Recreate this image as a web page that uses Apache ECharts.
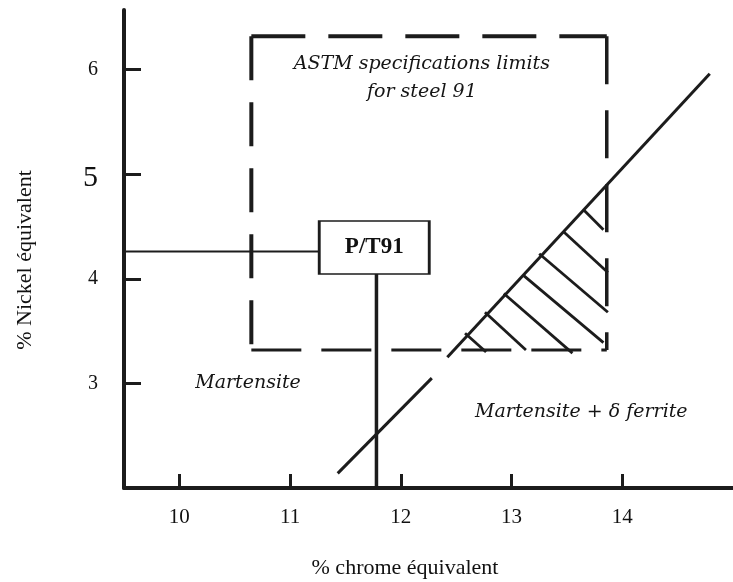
<!DOCTYPE html>
<html>
<head>
<meta charset="utf-8">
<script src="https://cdn.jsdelivr.net/npm/echarts@6/dist/echarts.min.js"></script>
<style>html,body{margin:0;padding:0;background:#fff}#c{width:733px;height:582px}</style>
</head>
<body>
<div id="c"></div>
<script>
// ---- data ----
const xTicks = [10, 11, 12, 13, 14];
const yTicks = [3, 4, 5, 6];
const xRange = [9.5, 15];
const yRange = [2, 6.57];
const xTitle = '% chrome équivalent';
const yTitle = '% Nickel équivalent';
const astmX = [10.65, 13.86];
const astmY = [3.32, 6.32];
const pt91 = [11.78, 4.26];
const pt91Label = [11.76, 4.30];
const boundaryLower = [[11.43, 2.14], [12.28, 3.05]];
const boundaryUpper = [[12.42, 3.25], [14.79, 5.96]];
const hatchStart = [[12.58, 3.48], [12.76, 3.68], [12.93, 3.86], [13.11, 4.03], [13.25, 4.24], [13.47, 4.45], [13.65, 4.66]];
const hatchEnd = [[12.77, 3.30], [13.13, 3.32], [13.55, 3.29], [13.83, 3.39], [13.87, 3.68], [13.87, 4.06], [13.83, 4.47]];
const regionNames = ['Martensite', 'Martensite + δ ferrite', 'ASTM specifications limits\nfor steel 91'];
const regionPos = [[10.62, 3.0], [13.63, 2.73], [12.19, 5.92]];

const ink = '#1c1c1c';
const serif = 'Liberation Serif';
const italicFont = 'DejaVu Serif';

function seg(a, b, width, dash, z) {
  return {
    type: 'line', data: [a, b], symbol: 'none', silent: true, z: z || 3,
    lineStyle: { color: ink, width: width, type: dash || 'solid', cap: 'butt', opacity: 1 },
    animation: false
  };
}

const series = [];
// ASTM dashed box (four sides each starting at a corner)
const dash = [54, 23];
series.push(seg([astmX[0], astmY[1]], [astmX[1], astmY[1]], 4, dash));
series.push(seg([astmX[0], astmY[1]], [astmX[0], astmY[0]], 4, [44, 22]));
series.push(seg([astmX[0], astmY[0]], [astmX[1], astmY[0]], 3, [50, 20]));
series.push(seg([astmX[1], astmY[1]], [astmX[1], astmY[0]], 3.5, [48, 26]));
// boundary line
series.push(seg(boundaryLower[0], boundaryLower[1], 3));
series.push(seg(boundaryUpper[0], boundaryUpper[1], 3));
// hatching
hatchStart.forEach((p, i) => series.push(seg(p, hatchEnd[i], 2.8)));
// P/T91 lines
series.push(seg([xRange[0], pt91[1]], [pt91[0], pt91[1]], 2));
series.push(seg([pt91[0], pt91[1]], [pt91[0], yRange[0]], 3.5));
// P/T91 box
series.push({
  type: 'scatter', data: [pt91Label], symbol: 'rect', symbolSize: [110, 53], z: 5, silent: true,
  itemStyle: { color: '#fff', borderColor: ink, borderWidth: 2, opacity: 1 },
  label: { show: true, position: 'inside', formatter: 'P/T91', color: '#111', fontFamily: serif, fontWeight: 'bold', fontSize: 23 },
  animation: false
});
// region labels
series.push({
  type: 'scatter', symbolSize: 0, z: 6, silent: true, animation: false,
  itemStyle: { opacity: 1 },
  data: regionPos.map((p, i) => ({ value: p, name: regionNames[i] })),
  label: { show: true, position: 'inside', formatter: p => p.name, color: '#151515', fontFamily: italicFont, fontStyle: 'italic', fontSize: 19, lineHeight: 28 }
});

const chart = echarts.init(document.getElementById('c'), null, { renderer: 'canvas' });
chart.setOption({
  animation: false,
  backgroundColor: '#fff',
  grid: { left: 124, right: -6, top: 10, bottom: 94 },
  xAxis: {
    type: 'value', min: xRange[0], max: xRange[1],
    axisLine: { show: true, onZero: false, lineStyle: { color: ink, width: 4 } },
    axisTick: { show: true, inside: true, length: 14, customValues: xTicks, lineStyle: { color: ink, width: 3 } },
    axisLabel: { customValues: xTicks, margin: 19, fontFamily: serif, fontSize: 21, color: '#111' },
    splitLine: { show: false }
  },
  yAxis: {
    type: 'value', min: yRange[0], max: yRange[1],
    axisLine: { show: true, onZero: false, lineStyle: { color: ink, width: 4 } },
    axisTick: { show: true, inside: true, length: 17, customValues: yTicks, lineStyle: { color: ink, width: 3 } },
    axisLabel: {
      customValues: yTicks, margin: 26, fontFamily: serif, fontSize: 20, color: '#111',
      formatter: v => v === 5 ? '{big|5}' : String(v),
      rich: { big: { fontFamily: serif, fontSize: 30, color: '#111', padding: [8, 0, 0, 0] } }
    },
    splitLine: { show: false }
  },
  graphic: [
    { type: 'text', x: 405, y: 568, silent: true,
      style: { text: xTitle, fontFamily: serif, fontSize: 22, fill: '#111', align: 'center', verticalAlign: 'middle' } },
    { type: 'text', x: 25, y: 260, rotation: Math.PI / 2, silent: true,
      style: { text: yTitle, fontFamily: serif, fontSize: 22, fill: '#111', align: 'center', verticalAlign: 'middle' } }
  ],
  series: series
});
</script>
</body>
</html>
